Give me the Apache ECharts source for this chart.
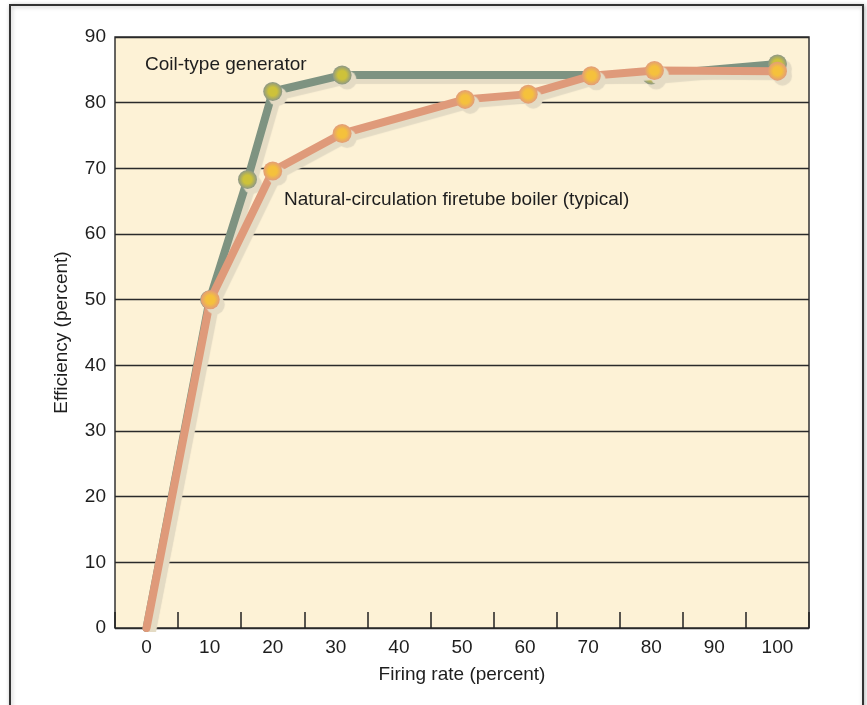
<!DOCTYPE html>
<html>
<head>
<meta charset="utf-8">
<script src="https://cdn.jsdelivr.net/npm/echarts@6/dist/echarts.min.js"></script>
<style>html,body{margin:0;padding:0;background:#fff}#c{width:867px;height:705px}</style>
</head>
<body>
<div id="c"></div>
<script>
// Data
var coilRate = [0, 10, 16, 20, 31, 80, 100];
var coilEff = [0, 50, 68.3, 81.7, 84.2, 84.2, 85.9];
var tubeRate = [0, 10.1, 20, 31, 50.5, 60.5, 70.5, 80.5, 100];
var tubeEff = [0, 50, 69.6, 75.3, 80.5, 81.3, 84.1, 84.9, 84.8];
var xTickLabels = [0, 10, 20, 30, 40, 50, 60, 70, 80, 90, 100];
var yTickLabels = [0, 10, 20, 30, 40, 50, 60, 70, 80, 90];
var coilName = 'Coil-type generator';
var tubeName = 'Natural-circulation firetube boiler (typical)';

var FONT = "'Liberation Sans', Arial, sans-serif";
var FS = 19;

function pairs(xs, ys) { return xs.map(function (x, i) { return [x, ys[i]]; }); }
function markerFill(center, edge) {
  return { type: 'radial', x: 0.5, y: 0.5, r: 0.5,
    colorStops: [{ offset: 0, color: center }, { offset: 0.45, color: center }, { offset: 1, color: edge }] };
}
var shadow = { shadowColor: '#e4dbc4', shadowOffsetX: 5, shadowOffsetY: 5, shadowBlur: 1 };

var chart = echarts.init(document.getElementById('c'));
chart.setOption({
  animation: false,
  backgroundColor: '#ffffff',
  textStyle: { fontFamily: FONT },
  graphic: [
    { type: 'rect', z: -10, shape: { x: 10, y: 5, width: 853, height: 730 },
      style: { fill: '#fff', stroke: '#333', lineWidth: 2, shadowColor: 'rgba(0,0,0,0.25)', shadowBlur: 4, shadowOffsetX: 1, shadowOffsetY: 1 } },
    { type: 'text', z: 100, x: 145, y: 65,
      style: { text: coilName, font: FS + 'px ' + FONT, fill: '#1e1e1e', verticalAlign: 'middle', align: 'left' } },
    { type: 'text', z: 100, x: 284, y: 200,
      style: { text: tubeName, font: FS + 'px ' + FONT, fill: '#1e1e1e', verticalAlign: 'middle', align: 'left' } }
  ],
  grid: { left: 115, top: 37, right: 58, bottom: 77, show: true, backgroundColor: '#fdf2d6', borderColor: '#333', borderWidth: 1.5 },
  xAxis: [{
    type: 'value', min: -5, max: 105, interval: 5,
    name: 'Firing rate (percent)', nameLocation: 'middle', nameGap: 37,
    nameTextStyle: { fontSize: FS, color: '#1e1e1e', fontFamily: FONT },
    axisLine: { show: false }, axisTick: { show: false }, splitLine: { show: false },
    axisLabel: { fontSize: FS, color: '#1e1e1e', margin: 10, fontFamily: FONT,
      formatter: function (v) { return xTickLabels.indexOf(v) >= 0 ? String(v) : ''; } }
  }, {
    type: 'value', min: -5, max: 105, interval: 10, position: 'bottom',
    axisLine: { show: false }, axisLabel: { show: false }, splitLine: { show: false },
    axisTick: { show: true, inside: true, length: 16, lineStyle: { color: '#222', width: 1.5 } }
  }],
  yAxis: {
    type: 'value', min: 0, max: 90, interval: 10,
    name: 'Efficiency (percent)', nameLocation: 'middle', nameGap: 44,
    nameTextStyle: { fontSize: FS, color: '#1e1e1e', fontFamily: FONT },
    axisLine: { show: false }, axisTick: { show: false },
    splitLine: { show: true, lineStyle: { color: '#2a2a2a', width: 1.3 } },
    axisLabel: { fontSize: FS, color: '#1e1e1e', margin: 9, fontFamily: FONT,
      formatter: function (v) { return yTickLabels.indexOf(v) >= 0 ? String(v) : ''; } }
  },
  series: [{
    name: coilName, type: 'line', data: pairs(coilRate, coilEff), z: 3,
    symbol: 'circle', symbolSize: function (v, p) { return p.dataIndex === 0 ? 0 : 19; },
    lineStyle: Object.assign({ color: '#7e9381', width: 8, cap: 'round', join: 'round' }, shadow),
    itemStyle: Object.assign({ color: markerFill('#cdc23a', '#8c9788'), borderWidth: 0 }, shadow)
  }, {
    name: tubeName, type: 'line', data: pairs(tubeRate, tubeEff), z: 4,
    symbol: 'circle', symbolSize: function (v, p) { return p.dataIndex === 0 ? 0 : 19; },
    lineStyle: Object.assign({ color: '#df9a7a', width: 8, cap: 'round', join: 'round' }, shadow),
    itemStyle: Object.assign({ color: markerFill('#f5c13c', '#e29c7a'), borderWidth: 0 }, shadow)
  }]
});
</script>
</body>
</html>
